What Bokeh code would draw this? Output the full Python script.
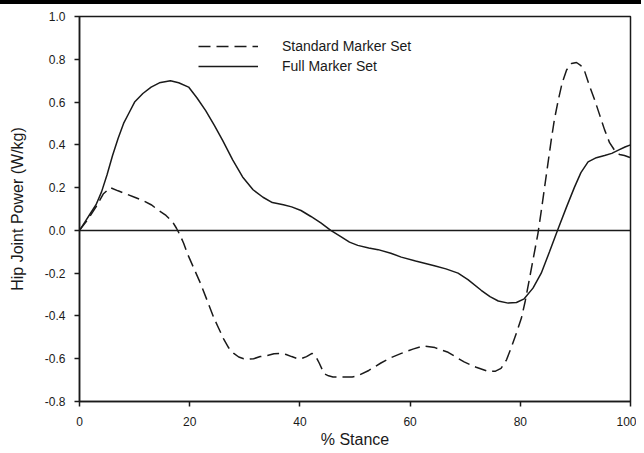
from bokeh.plotting import figure
from bokeh.models import Range1d, Span, Legend, LegendItem, NumeralTickFormatter, FixedTicker, Div
from bokeh.layouts import column
from bokeh.embed import file_html
from bokeh.resources import INLINE

# % stance and hip joint power (W/kg)
full_x = [0, 1, 2, 3, 4, 5, 6, 7, 8, 9, 10, 11.5, 13, 14.5, 16.5, 18, 19.8, 21.3, 22.9, 24.5,
          26, 27.8, 29.6, 31.5, 33.3, 35, 37, 38.5, 40.2, 42, 43.8, 45.6, 47.5, 49, 50.5,
          52.5, 54.2, 56.5, 58.4, 61, 64.4, 66.5, 68.7, 70.5, 72.9, 74.5, 76, 77.8, 79.3,
          80.7, 82.3, 83.8, 85.3, 86.9, 88.4, 89.8, 91, 92.3, 93.8, 95.3, 96.6, 97.8, 99, 100]
full_y = [0, 0.04, 0.08, 0.12, 0.18, 0.26, 0.35, 0.43, 0.50, 0.55, 0.60, 0.64, 0.67, 0.69,
          0.70, 0.69, 0.67, 0.62, 0.56, 0.49, 0.42, 0.33, 0.25, 0.19, 0.155, 0.13, 0.12, 0.11,
          0.093, 0.065, 0.035, 0.0, -0.03, -0.055, -0.07, -0.082, -0.09, -0.107, -0.125,
          -0.143, -0.165, -0.18, -0.2, -0.23, -0.28, -0.31, -0.33, -0.34, -0.337, -0.32,
          -0.27, -0.2, -0.1, 0.01, 0.11, 0.2, 0.27, 0.32, 0.34, 0.35, 0.36, 0.375, 0.39, 0.40]

std_x = [0, 1.5, 3, 4.3, 5.6, 7, 8.5, 10, 11.5, 13, 14.4, 15.7, 16.9, 17.6, 18.2, 18.9, 19.6,
         20.8, 22, 23.2, 24.4, 25.3, 26.2, 27.1, 28, 28.9, 29.8, 30.7, 31.6, 32.8, 34.1, 35.3,
         36.5, 37.5, 38.5, 39.4, 40.2, 41.2, 42.2, 42.9, 43.5, 44.4, 45.2, 46, 48, 49.5, 50.5,
         52.5, 54.7, 56.5, 58.4, 60.5, 62.5, 64.5, 66.9, 68.5, 69.8, 72, 74.2, 75.5, 76.5,
         77.5, 78.4, 79.3, 80.2, 80.9, 81.6, 82.4, 83.2, 83.8, 84.4, 85, 85.6, 86.2, 86.9,
         87.6, 88.4, 89.3, 90.2, 91, 91.6, 92.5, 93.5, 94.4, 95.3, 96.2, 97.1, 98, 98.9, 100]
std_y = [0, 0.05, 0.11, 0.17, 0.2, 0.185, 0.17, 0.155, 0.14, 0.12, 0.093, 0.07, 0.04, 0.01,
         -0.02, -0.06, -0.11, -0.18, -0.25, -0.33, -0.41, -0.46, -0.51, -0.55, -0.575, -0.592,
         -0.60, -0.602, -0.60, -0.59, -0.585, -0.577, -0.575, -0.58, -0.59, -0.598, -0.60,
         -0.59, -0.575, -0.59, -0.62, -0.67, -0.68, -0.685, -0.685, -0.685, -0.68, -0.655,
         -0.62, -0.595, -0.575, -0.555, -0.54, -0.548, -0.57, -0.595, -0.615, -0.64, -0.66,
         -0.658, -0.645, -0.605, -0.545, -0.48, -0.41, -0.33, -0.235, -0.125, -0.015, 0.09,
         0.2, 0.31, 0.42, 0.52, 0.61, 0.69, 0.75, 0.78, 0.785, 0.77, 0.75, 0.68, 0.61, 0.54,
         0.47, 0.41, 0.375, 0.355, 0.35, 0.34]

x_ticks = [0, 20, 40, 60, 80, 100]
y_ticks = [-0.8, -0.6, -0.4, -0.2, 0.0, 0.2, 0.4, 0.6, 0.8, 1.0]
series_names = ["Standard Marker Set", "Full Marker Set"]

FONT = "Liberation Sans"
INK = "#1a1a1a"

p = figure(frame_width=551, frame_height=385, min_border_left=87, min_border_right=6,
           min_border_top=7, min_border_bottom=46, output_backend="svg", toolbar_location=None,
           x_range=Range1d(0, 100), y_range=Range1d(-0.8, 1.0))
p.grid.visible = False
p.outline_line_color = INK
p.outline_line_width = 1.5
p.background_fill_color = "white"
p.border_fill_color = "white"

p.add_layout(Span(location=0, dimension="width", line_color=INK, line_width=1.5))

r_std = p.line(std_x, std_y, line_color=INK, line_width=1.5, line_dash="12 6")
r_full = p.line(full_x, full_y, line_color=INK, line_width=1.5)

for ax in (p.xaxis[0], p.yaxis[0]):
    ax.axis_line_color = INK
    ax.axis_line_width = 1.5
    ax.major_tick_line_color = INK
    ax.major_tick_line_width = 1.5
    ax.major_tick_out = 5
    ax.major_tick_in = 0
    ax.minor_tick_line_color = None
    ax.major_label_text_font = FONT
    ax.major_label_text_font_size = "12px"
    ax.major_label_text_color = INK
    ax.axis_label_text_font = FONT
    ax.axis_label_text_font_size = "16px"
    ax.axis_label_text_font_style = "normal"
    ax.axis_label_text_color = INK

p.xaxis.ticker = FixedTicker(ticks=x_ticks)
p.yaxis.ticker = FixedTicker(ticks=y_ticks)
p.yaxis.formatter = NumeralTickFormatter(format="0.0")
p.xaxis.axis_label = "% Stance"
p.yaxis.axis_label = "Hip Joint Power (W/kg)"
p.xaxis.major_label_standoff = 10
p.yaxis.major_label_standoff = 9
p.xaxis.axis_label_standoff = 2
p.yaxis.axis_label_standoff = 16

legend = Legend(items=[LegendItem(label=series_names[0], renderers=[r_std]),
                       LegendItem(label=series_names[1], renderers=[r_full])],
                location=(119, 325))
legend.padding = 0
legend.margin = 0
legend.spacing = 0
legend.glyph_width = 60
legend.glyph_height = 20
legend.label_height = 20
legend.label_standoff = 24
legend.border_line_alpha = 0
legend.background_fill_alpha = 0
legend.label_text_font = FONT
legend.label_text_font_size = "14px"
legend.label_text_color = INK
p.add_layout(legend, "center")

bar = Div(text="", width=644, height=7, styles={"background-color": "black"})
layout = column(bar, p, spacing=0, styles={"margin": "-8px 0 0 -8px"})

open("out.html", "w").write(file_html(layout, INLINE))
